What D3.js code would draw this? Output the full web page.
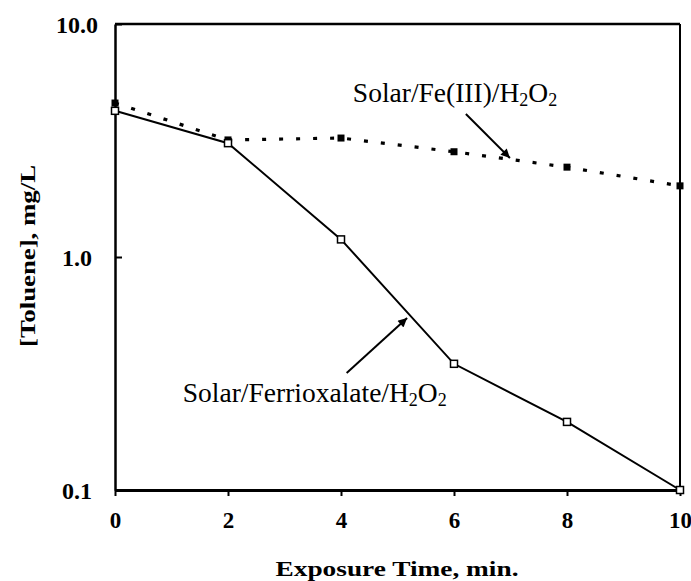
<!DOCTYPE html>
<html><head><meta charset="utf-8">
<script src="https://cdn.jsdelivr.net/npm/d3@7"></script>
<style>body{margin:0;background:#fff}svg{display:block}</style>
</head><body>
<svg id="c" width="691" height="581"></svg>
<script>
const times = [0, 2, 4, 6, 8, 10];
const ferrioxalate = [4.24, 3.08, 1.19, 0.348, 0.196, 0.1];
const feIII = [4.58, 3.18, 3.24, 2.83, 2.43, 2.02];
const xTicks = [0, 2, 4, 6, 8, 10];
const yTicks = [10, 1, 0.1];
const yTickLabels = ["10.0", "1.0", "0.1"];

const svg = d3.select("#c");
const x = d3.scaleLinear().domain([0, 10]).range([115, 680]);
const y = d3.scaleLog().domain([0.1, 10]).range([490, 24]);
const serif = "'Liberation Serif','DejaVu Serif',serif";

// frame top & right
svg.append("line").attr("x1", x(0)).attr("x2", x(10)).attr("y1", y(10)).attr("y2", y(10)).attr("stroke", "#000").attr("stroke-width", 2.5);
svg.append("line").attr("x1", x(10)).attr("x2", x(10)).attr("y1", y(10)).attr("y2", y(0.1)).attr("stroke", "#000").attr("stroke-width", 2);

// x axis
const xAxis = d3.axisBottom(x).tickValues(xTicks).tickSize(6).tickSizeOuter(0).tickFormat(d3.format("d"));
const gx = svg.append("g").attr("transform", `translate(0,${y(0.1)})`).call(xAxis);
gx.attr("font-size", null).attr("font-family", null);
gx.select(".domain").attr("stroke-width", 3);
gx.selectAll(".tick line").attr("stroke-width", 2);
gx.selectAll(".tick text").style("font-family", serif).style("font-weight", "bold").style("font-size", "23px").attr("dy", "1.25em");

// y axis
const yAxis = d3.axisLeft(y).tickValues(yTicks).tickSize(-7).tickSizeOuter(0).tickFormat((d, i) => yTickLabels[i]);
const gy = svg.append("g").attr("transform", `translate(${x(0)},0)`).call(yAxis);
gy.attr("font-size", null).attr("font-family", null);
gy.select(".domain").attr("stroke-width", 2.5);
gy.selectAll(".tick line").attr("stroke-width", 2);
gy.selectAll(".tick text").style("font-family", serif).style("font-weight", "bold").style("font-size", "24px")
  .attr("text-anchor", "middle").attr("x", -38).attr("dy", "0.35em");

// axis titles
svg.append("text").attr("x", 397).attr("y", 576).attr("text-anchor", "middle")
  .attr("font-family", serif).attr("font-weight", "bold").attr("font-size", 22)
  .attr("textLength", 243).attr("lengthAdjust", "spacingAndGlyphs").text("Exposure Time, min.");
svg.append("text").attr("transform", "translate(35,256) rotate(-90)").attr("text-anchor", "middle")
  .attr("font-family", serif).attr("font-weight", "bold").attr("font-size", 21)
  .attr("textLength", 182).attr("lengthAdjust", "spacingAndGlyphs").text("[Toluene], mg/L");

// series lines
const line = d3.line().x(d => x(d[0])).y(d => y(d[1]));
const dFerri = times.map((t, i) => [t, ferrioxalate[i]]);
const dFe = times.map((t, i) => [t, feIII[i]]);

svg.append("path").datum(dFe).attr("d", line).attr("fill", "none").attr("stroke", "#000")
  .attr("stroke-width", 3.2).attr("stroke-dasharray", "4,13");
svg.append("path").datum(dFerri).attr("d", line).attr("fill", "none").attr("stroke", "#000").attr("stroke-width", 2);

// markers
const s = 7;
svg.selectAll(".mfe").data(dFe).join("rect").attr("x", d => x(d[0]) - s / 2).attr("y", d => y(d[1]) - s / 2)
  .attr("width", s).attr("height", s).attr("fill", "#000");
svg.selectAll(".mfo").data(dFerri).join("rect").attr("x", d => x(d[0]) - s / 2).attr("y", d => y(d[1]) - s / 2)
  .attr("width", s).attr("height", s).attr("fill", "#fff").attr("stroke", "#000").attr("stroke-width", 1.5);

// arrows
svg.append("defs").append("marker").attr("id", "ah").attr("viewBox", "0 0 10 10").attr("refX", 10).attr("refY", 5)
  .attr("markerWidth", 18).attr("markerHeight", 9).attr("markerUnits", "userSpaceOnUse").attr("orient", "auto")
  .append("path").attr("d", "M0,0 L10,5 L0,10 Z").attr("fill", "#000");
function arrow(x1, y1, x2, y2) {
  svg.append("line").attr("x1", x(x1)).attr("y1", y(y1)).attr("x2", x(x2)).attr("y2", y(y2))
    .attr("stroke", "#000").attr("stroke-width", 2).attr("marker-end", "url(#ah)");
}
arrow(6.21, 4.11, 6.99, 2.66);
arrow(4.1, 0.318, 5.17, 0.547);

// labels with subscripts
function label(xv, yv, parts) {
  const t = svg.append("text").attr("x", x(xv)).attr("y", y(yv)).attr("font-family", serif).attr("font-size", 27.5);
  parts.forEach(p => {
    if (p.sub) t.append("tspan").attr("font-size", 18).attr("dy", 4).text(p.t);
    else t.append("tspan").attr("dy", p.reset ? -4 : 0).text(p.t);
  });
}
label(4.21, 4.62, [{t: "Solar/Fe(III)/H"}, {t: "2", sub: true}, {t: "O", reset: true}, {t: "2", sub: true}]);
label(1.2, 0.239, [{t: "Solar/Ferrioxalate/H"}, {t: "2", sub: true}, {t: "O", reset: true}, {t: "2", sub: true}]);
</script>
</body></html>
